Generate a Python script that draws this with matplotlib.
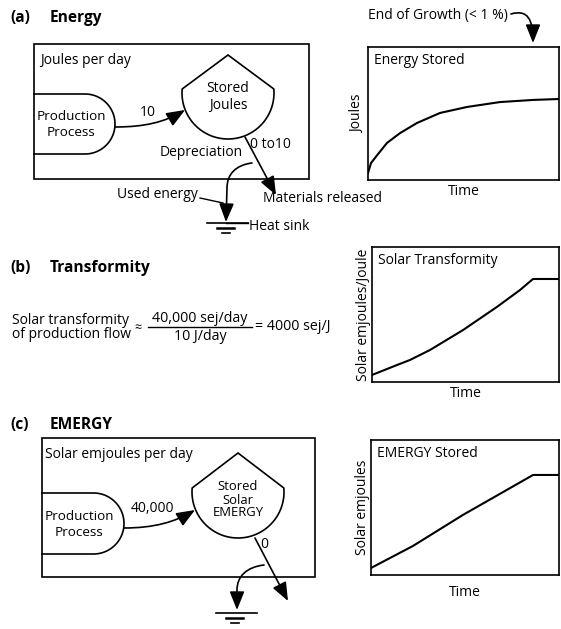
import numpy as np
import matplotlib.pyplot as plt
from matplotlib.patches import Rectangle, Polygon, FancyArrowPatch
from matplotlib.path import Path

plt.rcParams['font.family'] = ['Open Sans', 'DejaVu Sans']

# Дані графіків (час 0..100, величина 0..100)
energy_t = [0, 1.6, 4.7, 9.9, 16.8, 25.7, 37.7, 51.8, 69.1, 86.4, 100]
energy_j = [5.3, 12.8, 18.5, 27.8, 35.3, 42.9, 50.4, 54.9, 58.6, 60.2, 60.9]

transf_t = [0, 13.4, 20.3, 31.0, 48.7, 66.8, 79.1, 86.1, 100]
transf_v = [5.2, 12.6, 16.3, 23.7, 38.5, 55.6, 68.1, 76.3, 76.3]

emergy_t = [0, 22.3, 48.9, 86.2, 100]
emergy_v = [5.2, 21.5, 44.5, 74.1, 74.1]

# Підписи
panel_titles = ["(a)", "(b)", "(c)"]
panel_names = ["Energy", "Transformity", "EMERGY"]
chart_titles = ["Energy Stored", "Solar Transformity", "EMERGY Stored"]
chart_ylabels = ["Joules", "Solar emjoules/Joule", "Solar emjoules"]
flow_in = ["10", "40,000"]
flow_out = ["0 to10", "0"]

W, H = 561, 629
fig = plt.figure(figsize=(W / 100, H / 100), dpi=100)
ax = fig.add_axes([0, 0, 1, 1])
ax.set_xlim(0, W)
ax.set_ylim(H, 0)
ax.axis('off')

fs = 10
hfs = 11.2
lw = 1.2
tw = 'medium'


def arrow_path(verts, codes, ms=15):
    p = FancyArrowPatch(path=Path(verts, codes), arrowstyle='-|>,head_length=0.75,head_width=0.3',
                        mutation_scale=ms, color='black', lw=lw)
    ax.add_patch(p)


def label(x, y, s, **kw):
    kw.setdefault('fontsize', fs)
    kw.setdefault('va', 'center')
    kw.setdefault('fontweight', tw)
    ax.text(x, y, s, **kw)


def production(x0, top, bot, xr):
    r = (bot - top) / 2
    cx, cy = xr - r, (top + bot) / 2
    t = np.linspace(-np.pi / 2, np.pi / 2, 60)
    xs = np.concatenate([[x0], cx + r * np.cos(t), [x0]])
    ys = np.concatenate([[top], cy + r * np.sin(t), [bot]])
    ax.plot(xs, ys, color='black', lw=lw)
    label(cx - 14, cy - 7, "Production", ha='center', fontsize=fs - 0.3)
    label(cx - 14, cy + 9, "Process", ha='center', fontsize=fs - 0.3)


def tank(cx, cy, r, apex):
    t = np.radians(np.linspace(-5, 185, 80))
    pts = np.column_stack([cx + r * np.cos(t), cy + r * np.sin(t)])
    pts = np.vstack([pts, [[cx, apex]]])
    ax.add_patch(Polygon(pts, closed=True, fill=False, ec='black', lw=lw))


def ground(x, y):
    ax.plot([x - 19, x + 22], [y, y], color='black', lw=lw)
    ax.plot([x - 9, x + 8], [y + 5, y + 5], color='black', lw=1.8)
    ax.plot([x - 4, x + 4], [y + 10, y + 10], color='black', lw=lw)


M, C, L = Path.MOVETO, Path.CURVE4, Path.LINETO

# ---------- (a) Energy ----------
ax.text(10, 18, panel_titles[0], fontsize=hfs, fontweight='bold', va='center')
ax.text(50, 18, panel_names[0], fontsize=hfs, fontweight='bold', va='center')
ax.add_patch(Rectangle((34, 44), 275, 135, fill=False, ec='black', lw=lw))
label(40, 60, "Joules per day")
production(34, 94, 154, 115)
tank(228, 93, 46, 55)
label(228, 88, "Stored", ha='center')
label(228, 106, "Joules", ha='center')
arrow_path([(115, 127), (145, 127), (165, 122), (185, 110)], [M, C, C, C])
label(148, 113, flow_in[0], ha='center')
arrow_path([(245, 137), (276, 195)], [M, L])
label(243, 153, "Depreciation", ha='right')
label(250, 145, flow_out[0], ha='left')
arrow_path([(252, 163), (236, 165), (227, 174), (227, 188), (226, 222)], [M, C, C, C, L])
label(198, 194, "Used energy", ha='right')
ax.plot([200, 223], [198, 203], color='black', lw=1.0)
label(263, 199, "Materials released", ha='left')
ground(226, 223)
ax.plot([226, 248], [223, 223], color='black', lw=1.0)
label(249, 226, "Heat sink", ha='left')

# End of Growth
label(368, 15, "End of Growth (< 1 %)", ha='left')
arrow_path([(511, 14), (528, 9), (533, 20), (533, 43)], [M, C, C, C])

# ---------- (b) Transformity ----------
ax.text(10, 268, panel_titles[1], fontsize=hfs, fontweight='bold', va='center')
ax.text(50, 268, panel_names[1], fontsize=hfs, fontweight='bold', va='center')
label(12, 320, "Solar transformity")
label(12, 334, "of production flow")
label(138, 328, "≈", ha='center', fontsize=fs - 1)
label(200, 318, "40,000 sej/day", ha='center', fontsize=fs + 0.3)
ax.plot([148, 252], [327, 327], color='black', lw=1.0)
label(200, 336, "10 J/day", ha='center', fontsize=fs + 0.3)
label(255, 327, "= 4000 sej/J", ha='left', fontsize=fs + 0.3)

# ---------- (c) EMERGY ----------
ax.text(10, 425, panel_titles[2], fontsize=hfs, fontweight='bold', va='center')
ax.text(50, 425, panel_names[2], fontsize=hfs, fontweight='bold', va='center')
ax.add_patch(Rectangle((42, 438), 273, 139, fill=False, ec='black', lw=lw))
label(45, 455, "Solar emjoules per day")
production(42, 493, 554, 124)
tank(238, 492, 46, 453)
label(238, 487, "Stored", ha='center', fontsize=fs - 0.6)
label(238, 500, "Solar", ha='center', fontsize=fs - 0.6)
label(238, 513, "EMERGY", ha='center', fontsize=fs - 0.6)
arrow_path([(124, 528), (154, 528), (175, 522), (195, 510)], [M, C, C, C])
label(153, 508, flow_in[1], ha='center')
arrow_path([(255, 538), (288, 601)], [M, L])
label(260, 545, flow_out[1], ha='left')
arrow_path([(264, 565), (247, 567), (237, 576), (237, 590), (237, 610)], [M, C, C, C, L])
ground(235, 613)

# ---------- графіки праворуч ----------
boxes = [(368, 47, 559, 180), (372, 247, 559, 382), (371, 440, 559, 575)]
series = [(energy_t, energy_j), (transf_t, transf_v), (emergy_t, emergy_v)]
xpads = [3, 3, 7]
ypads = [2, 1, 1]
for (l, t, r, b), (xs, ys), title, ylab, xp, yp in zip(boxes, series, chart_titles, chart_ylabels, xpads, ypads):
    cax = fig.add_axes([l / W, 1 - b / H, (r - l) / W, (b - t) / H])
    cax.plot(xs, ys, color='black', lw=1.5)
    cax.set_xlim(0, 100)
    cax.set_ylim(0, 100)
    cax.set_xticks([])
    cax.set_yticks([])
    for s in cax.spines.values():
        s.set_linewidth(lw)
    cax.text(0.03, 0.9, title, transform=cax.transAxes, fontsize=fs, va='center', fontweight=tw)
    cax.set_xlabel("Time", fontsize=fs, labelpad=xp, fontweight=tw)
    cax.set_ylabel(ylab, fontsize=fs, labelpad=yp, fontweight=tw)

fig.savefig("out.png", dpi=100)
